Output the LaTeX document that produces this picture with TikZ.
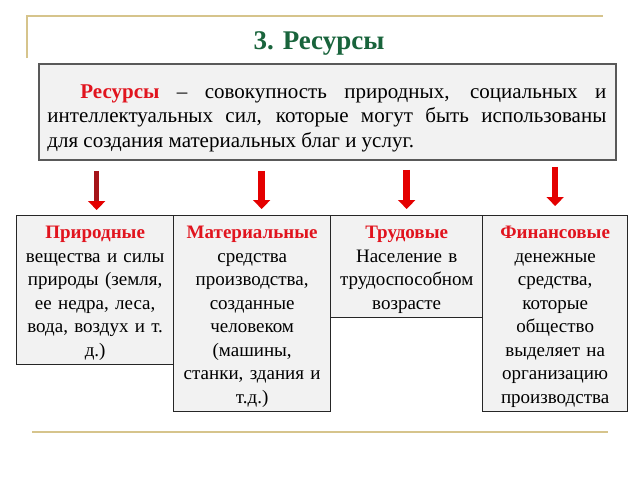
\documentclass[tikz,border=0pt]{standalone}
\usepackage{fontspec}
\setmainfont{Liberation Serif}
\usetikzlibrary{arrows.meta,calc}
\definecolor{gold}{RGB}{214,196,140}
\definecolor{ttl}{RGB}{25,100,60}
\definecolor{rd}{RGB}{225,20,30}
\definecolor{boxfill}{RGB}{242,242,242}
\definecolor{arr}{RGB}{228,0,0}
\definecolor{arrdark}{RGB}{165,20,25}
\newcommand{\topstrut}{\rule{0pt}{23pt}}
\newcommand{\botstrut}{\rule[-8pt]{0pt}{8pt}}
\begin{document}
\begin{tikzpicture}[x=1pt,y=-1pt,
  goldline/.style={gold, line width=2pt},
  resbox/.style={draw=black!85, line width=1.3pt, fill=boxfill, anchor=north west,
    align=center, inner xsep=2pt, inner ysep=0pt, font=\fontsize{19}{23.5}\selectfont},
  blockarrow/.style={draw=arr, line width=6.5pt, line cap=butt,
    -{Triangle[width=17pt,length=9pt,color=arr]}}]
\useasboundingbox (0,0) rectangle (640,480);
\fill[white] (0,0) rectangle (640,480);
\draw[goldline] (27,58) -- (27,16) -- (603,16);
\draw[goldline] (32,432) -- (608,432);
\node[font=\bfseries\fontsize{27}{32}\selectfont, text=ttl] (title) at (319,43) {3. Ресурсы};
\node[draw=black!65, line width=1.8pt, fill=boxfill, anchor=north west,
  minimum width=577pt, minimum height=96pt, inner sep=0pt] (def) at (38,63) {};
\node[text width=559pt, inner sep=0pt, align=justify,
  font=\fontsize{21}{24.5}\selectfont] (deftext) at ($(def.center)+(-0.5,6)$)
  {\hspace*{33pt}\textcolor{rd}{\textbf{Ресурсы}} – совокупность природных, социальных и\linebreak
   интеллектуальных сил, которые могут быть использованы\linebreak
   для создания материальных благ и услуг.};
\node[resbox, text width=153pt] (b1) at (16,215)
  {\topstrut\textcolor{rd}{\textbf{Природные}}\\вещества и силы\\природы (земля,\\ее недра, леса,\\вода, воздух и т.\\д.)\botstrut};
\node[resbox, text width=153pt] (b2) at (173,215)
  {\topstrut\textcolor{rd}{\textbf{Материальные}}\\средства\\производства,\\созданные\\человеком\\(машины,\\станки, здания и\\т.д.)\botstrut};
\node[resbox, text width=148pt] (b3) at (330,215)
  {\topstrut\textcolor{rd}{\textbf{Трудовые}}\\Население в\\трудоспособном\\возрасте\botstrut};
\node[resbox, text width=141pt] (b4) at (482,215)
  {\topstrut\textcolor{rd}{\textbf{Финансовые}}\\денежные\\средства,\\которые\\общество\\выделяет на\\организацию\\производства\botstrut};
\draw[blockarrow, draw=arrdark, line width=4.5pt] ($(def.south -| b1.north)+(1.5,10)$) -- ($(b1.north)+(1.5,-5)$);
\draw[blockarrow] ($(def.south -| b2.north)+(9.5,10)$) -- ($(b2.north)+(9.5,-6)$);
\draw[blockarrow] ($(def.south -| b3.north)+(0,9)$) -- ($(b3.north)+(0,-6)$);
\draw[blockarrow] ($(def.south -| b4.north)+(0,6)$) -- ($(b4.north)+(0,-9)$);
\end{tikzpicture}
\end{document}
